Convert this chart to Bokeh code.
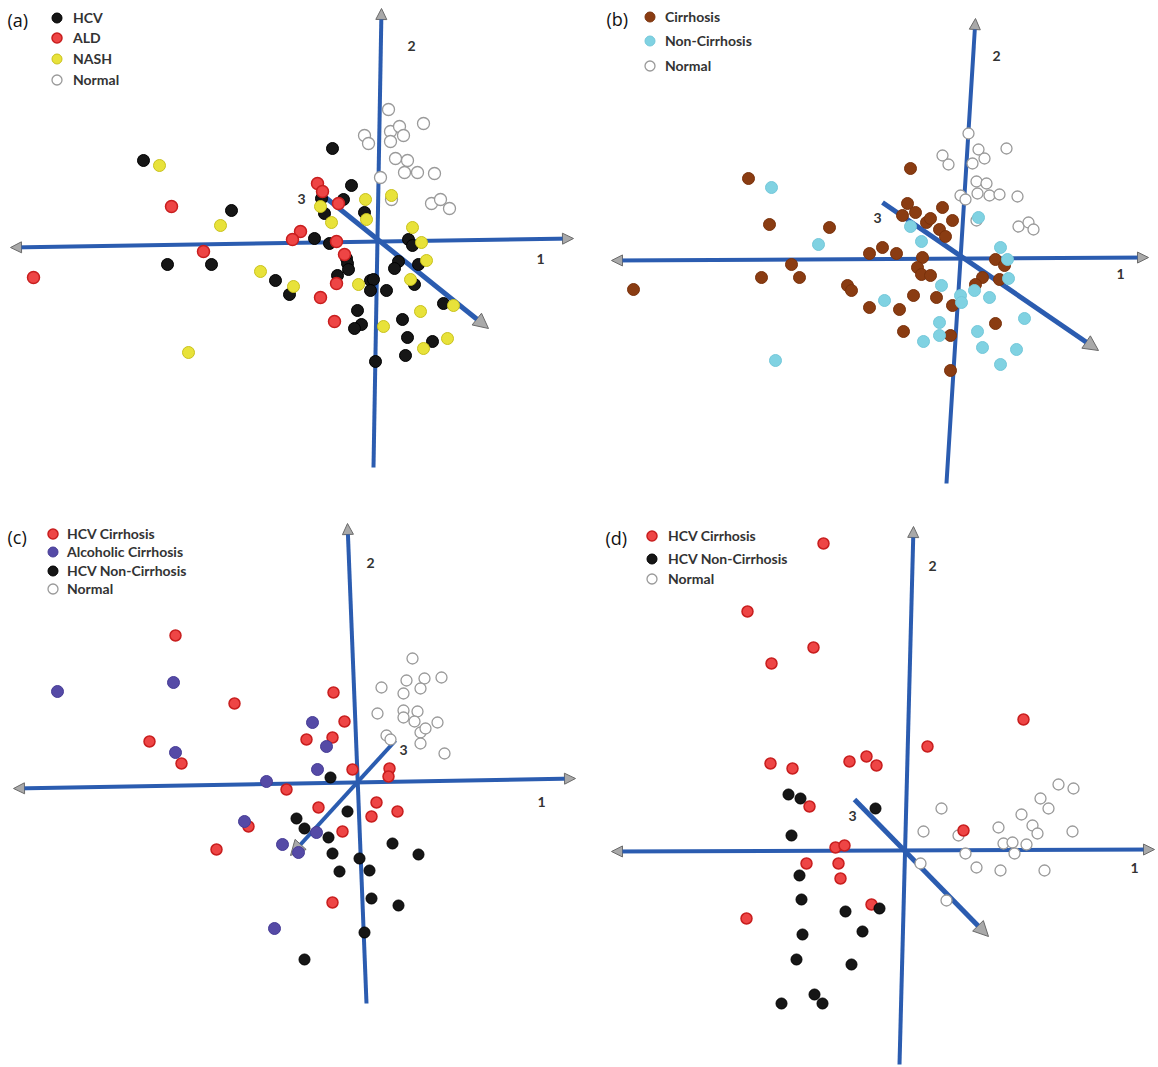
from bokeh.plotting import figure
from bokeh.layouts import gridplot
from bokeh.models import Arrow, NormalHead, Label, Legend, LegendItem, Range1d
from bokeh.core.properties import value
from bokeh.embed import file_html
from bokeh.resources import INLINE

# ---------------- data: projected scores (components 1 / 2) ----------------
# panel (a)
a_hcv_x = [-23.4, -4.5, -2.6, -3.4, -5.6, -14.6, -1.3, -5.3, -6.3, -4.8, 3.1, 3.5, -21.0, -16.6, -3.1, -3.0, -2.9, 2.1, 1.7, 4.1,
           -4.0, -10.2, -0.7, -0.4, -0.7, 0.9, -8.8, 3.7, 6.6, -2.0, 2.5, -1.6, -2.3, 3.0, 5.5, 2.8, -0.2]
a_hcv_y = [8.1, 9.3, 5.6, 4.2, 4.3, 3.1, 2.9, 2.8, 0.3, -0.2, 0.2, -0.4, -2.3, -2.3, -1.7, -2.2, -2.8, -2.0, -2.7, -2.3,
           -3.4, -3.9, -3.9, -3.8, -4.9, -4.9, -5.3, -4.3, -6.2, -6.9, -7.8, -8.3, -8.7, -9.6, -10.0, -11.4, -12.0]
a_ald_x = [-34.4, -20.6, -6.0, -5.5, -7.7, -8.5, -4.1, -17.4, -3.3, -4.1, -5.7, -4.3, -3.9]
a_ald_y = [-3.6, 3.5, 5.8, 5.0, 1.0, 0.2, 0.0, -1.0, -1.3, -4.2, -5.6, -8.0, 3.8]
a_nash_x = [-21.8, -15.7, -5.7, -4.6, -1.2, -1.1, 1.4, 3.5, 4.4, 4.9, -11.7, -8.4, -1.9, 3.3, 4.3, 0.6, 7.0, 4.6, -18.9, 7.6]
a_nash_y = [7.6, 1.6, 3.5, 1.9, 4.2, 2.2, 4.6, 1.4, -0.1, -1.9, -3.0, -4.5, -4.3, -3.8, -7.0, -8.5, -9.7, -10.7, -11.1, -6.4]
a_norm_x = [1.1, 4.6, -1.3, 1.3, 2.2, 2.6, -0.9, 1.3, 1.8, 3.0, 2.7, 4.0, 5.7, 0.3, 5.4, 6.3, 7.2, 1.4]
a_norm_y = [13.2, 11.8, 10.6, 11.0, 11.5, 10.6, 9.8, 10.0, 8.3, 8.1, 6.9, 6.9, 6.8, 6.4, 3.8, 4.2, 3.3, 4.2]

# panel (b)
b_cir_x = [-21.2, -5.0, -19.1, -13.1, -5.3, -4.5, -5.8, -1.8, -3.4, -3.0, -0.8, -2.1, -1.5, -7.8, -9.1, -6.4, -3.8, -16.9, -19.9, -16.1,
           -4.3, -3.9, -3.0, -32.7, -11.3, -10.9, 3.5, 4.4, 2.2, 1.5, 3.9, -4.7, -2.4, -9.1, -6.1, -0.8, 3.5, -5.7, -1.0, -1.0]
b_cir_y = [7.9, 8.9, 3.3, 3.0, 5.4, 4.5, 4.2, 5.0, 3.5, 3.9, 3.7, 2.8, 2.1, 1.0, 0.4, 0.4, 0.0, -0.7, -2.0, -2.0,
           -1.0, -1.7, -1.8, -3.2, -2.8, -3.3, -0.2, -0.8, -2.0, -2.7, -2.2, -3.8, -4.0, -5.0, -5.2, -4.8, -6.6, -7.4, -7.8, -11.3]
b_non_x = [-18.9, 1.8, -5.0, -3.9, -14.2, 4.0, 4.7, 4.8, -1.9, 1.4, 0.0, 0.1, 2.9, -7.6, 6.4, -2.1, 1.7, -2.1, -3.7, 2.2, 5.6, 4.0, -18.5]
b_non_y = [7.0, 4.0, 3.1, 1.6, 1.3, 1.0, -0.2, -2.1, -2.8, -3.3, -3.8, -4.5, -4.0, -4.3, -6.1, -6.5, -7.4, -7.8, -8.4, -9.0, -9.2, -10.7, -10.3]
b_norm_x = [0.8, 4.6, -1.8, 1.8, 2.4, 1.2, -1.2, 1.6, 2.6, 1.7, 2.9, 3.9, 5.7, 0.0, 0.5, 1.6, 5.8, 6.8, 7.3]
b_norm_y = [12.4, 10.9, 10.2, 10.8, 9.9, 9.4, 9.3, 7.6, 7.4, 6.4, 6.2, 6.3, 6.1, 6.2, 5.8, 3.7, 3.1, 3.5, 2.8]

# panel (c)
c_hcvc_x = [-18.1, -12.2, -2.3, -1.2, -5.0, -2.4, -20.7, -17.5, -0.4, 3.3, 3.2, -7.0, -3.8, 2.0, 4.1, 1.5, -1.4, -10.8, -14.0, -2.4]
c_hcvc_y = [14.7, 7.9, 9.0, 6.1, 4.3, 4.5, 4.1, 1.9, 1.3, 1.4, 0.6, -0.7, -2.5, -2.0, -2.9, -3.4, -4.9, -4.4, -6.7, -12.0]
c_alc_x = [-29.9, -18.3, -4.4, -18.1, -3.0, -3.9, -9.0, -11.2, -4.0, -7.4, -5.8, -8.2]
c_alc_y = [9.1, 10.0, 6.0, 3.0, 3.6, 1.3, 0.1, -3.9, -5.0, -6.2, -7.0, -14.6]
c_non_x = [-2.6, -0.9, -6.0, -5.2, -2.8, 3.6, 6.2, -2.4, 0.3, -1.7, 1.3, 1.5, 4.2, 0.8, -5.2]
c_non_y = [0.5, -2.9, -3.6, -4.6, -5.5, -6.1, -7.2, -7.1, -7.6, -8.9, -8.8, -11.6, -12.3, -15.0, -17.7]
c_norm_x = [5.6, 2.5, 5.0, 6.8, 8.5, 4.7, 6.4, 2.1, 4.7, 6.1, 4.7, 5.8, 8.1, 6.4, 6.9, 3.0, 3.4, 6.4, 8.8]
c_norm_y = [12.4, 9.5, 10.2, 10.4, 10.5, 8.9, 9.4, 6.9, 7.2, 7.1, 6.5, 6.1, 6.0, 5.0, 5.4, 4.7, 4.3, 3.9, 2.9]

# panel (d)
d_hcvc_x = [-8.1, -15.7, -9.1, -13.3, 11.9, 2.3, -13.4, -11.2, -5.5, -3.8, -2.8, -9.5, 5.9, -6.9, -6.0, -9.8, -6.6, -6.4, -3.3, -15.8]
d_hcvc_y = [30.7, 23.9, 20.3, 18.7, 13.1, 10.4, 8.7, 8.2, 8.9, 9.4, 8.5, 4.4, 2.0, 0.3, 0.5, -1.3, -1.3, -2.8, -5.4, -6.8]
d_non_x = [-11.6, -10.4, -2.9, -11.3, -10.5, -10.3, -5.9, -2.5, -10.2, -4.2, -10.8, -5.3, -9.0, -8.2, -12.3]
d_non_y = [5.6, 5.2, 4.2, 1.5, -2.5, -4.9, -6.1, -5.8, -8.4, -8.1, -10.9, -11.4, -14.4, -15.3, -15.3]
d_norm_x = [15.4, 16.9, 13.6, 14.4, 3.7, 11.7, 12.8, 13.3, 16.8, 1.9, 9.4, 5.4, 9.9, 10.8, 12.2, 11.0, 6.1, 7.2, 9.6, 14.0, 1.6, 4.2]
d_norm_y = [6.6, 6.2, 5.2, 4.2, 4.2, 3.6, 2.5, 1.7, 1.9, 1.9, 2.3, 1.5, 0.7, 0.8, 0.6, -0.3, -0.3, -1.7, -2.0, -2.0, -1.3, -5.0]

# projected component axes: [x_start, y_start, x_end, y_end] for axes 1, 2, 3
a_axes = [[-36.7, -0.6, 19.6, 0.3], [-0.4, -22.6, 0.4, 23.3], [-5.2, 4.4, 11.1, -8.7]]
b_axes = [[-34.9, -0.3, 18.8, 0.0], [-1.4, -22.6, 1.5, 23.9], [-7.8, 5.5, 13.8, -9.3]]
c_axes = [[-34.3, -0.6, 21.9, 0.4], [1.0, -22.1, -0.9, 25.9], [3.9, 4.2, -6.6, -7.3]]
d_axes = [[-29.3, -0.1, 25.0, 0.1], [-0.5, -21.4, 0.9, 32.4], [-5.0, 5.1, 8.4, -8.6]]
axis_names = ["1", "2", "3"]
a_lab_x, a_lab_y = [16.3, 3.4, -7.6], [-1.7, 19.6, 4.3]
b_lab_x, b_lab_y = [16.0, 3.6, -8.3], [-1.6, 20.2, 4.0]
c_lab_x, c_lab_y = [18.5, 1.4, 4.7], [-1.9, 22.0, 3.3]
d_lab_x, d_lab_y = [23.0, 2.8, -5.2], [-1.7, 28.5, 3.5]

# ---------------- styling ----------------
BLUE = "#2b5cb0"
HEAD_FILL = "#a9a9a9"
HEAD_LINE = "#6a6a6a"
FONT = "Lato"
NORMAL = dict(fill_color="white", line_color="#9a9a9a", line_width=1.3)
BLACK = dict(fill_color="#161616", line_color="#000000", line_width=1)
RED = dict(fill_color="#ee4545", line_color="#c81e1e", line_width=1.5)
YELLOW = dict(fill_color="#e8e23a", line_color="#c9c21c", line_width=1)
BROWN = dict(fill_color="#8a3c12", line_color="#7a320c", line_width=1)
CYAN = dict(fill_color="#80d2e2", line_color="#74c8da", line_width=1)
PURPLE = dict(fill_color="#554aa6", line_color="#463c96", line_width=1)


def make_panel(width, height, xr, yr):
    p = figure(width=width, height=height, x_range=Range1d(*xr), y_range=Range1d(*yr),
               x_axis_location=None, y_axis_location=None, toolbar_location=None,
               output_backend="svg", min_border=0, outline_line_color=None,
               background_fill_color="white", border_fill_color="white")
    p.grid.grid_line_color = None
    return p


def head(size):
    return NormalHead(size=size, fill_color=HEAD_FILL, line_color=HEAD_LINE, line_width=1)


def add_axes(p, axes, lab_x, lab_y, w3=5):
    a1, a2, a3 = axes
    p.add_layout(Arrow(start=head(11), end=head(11), x_start=a1[0], y_start=a1[1], x_end=a1[2], y_end=a1[3],
                       line_color=BLUE, line_width=4, level="underlay"))
    p.add_layout(Arrow(end=head(11), x_start=a2[0], y_start=a2[1], x_end=a2[2], y_end=a2[3],
                       line_color=BLUE, line_width=4, level="underlay"))
    p.add_layout(Arrow(end=head(15), x_start=a3[0], y_start=a3[1], x_end=a3[2], y_end=a3[3],
                       line_color=BLUE, line_width=w3, level="underlay"))
    p.text(x=lab_x, y=lab_y, text=axis_names, text_font=value(FONT), text_font_style="bold",
           text_font_size="14px", text_color="#333333", text_align="center", text_baseline="middle")


def add_letter(p, txt, x, y):
    p.add_layout(Label(x=x, y=y, x_units="screen", y_units="screen", text=txt, text_font="Open Sans",
                       text_font_size="18px", text_color="#111111", text_baseline="middle", text_align="left"))


def add_legend(p, items, x, ys, standoff):
    # one single-entry legend per item so that the row spacing can match the figure
    for (lab, r), y in zip(items, ys):
        lg = Legend(items=[LegendItem(label=lab, renderers=[r])], location=(x, y),
                    glyph_width=25, glyph_height=25, label_height=20, spacing=0, label_standoff=standoff,
                    padding=0, margin=0, background_fill_alpha=0, border_line_alpha=0,
                    label_text_font=FONT, label_text_font_style="bold", label_text_font_size="14px",
                    label_text_color="#333333")
        p.add_layout(lg)


W = 579
H_TOP, H_BOT = 510, 556

# ---- (a)
pa = make_panel(W, H_TOP, (-37.7, 20.2), (-26.9, 24.1))
add_axes(pa, a_axes, a_lab_x, a_lab_y)
ra_norm = pa.scatter(a_norm_x, a_norm_y, size=12, **NORMAL)
ra_hcv = pa.scatter(a_hcv_x, a_hcv_y, size=12, **BLACK)
ra_nash = pa.scatter(a_nash_x, a_nash_y, size=12, **YELLOW)
ra_ald = pa.scatter(a_ald_x, a_ald_y, size=12, **RED)
add_legend(pa, [("HCV", ra_hcv), ("ALD", ra_ald), ("NASH", ra_nash), ("Normal", ra_norm)],
           44, [480, 460, 439, 418], 4)
add_letter(pa, "(a)", 7, 491)

# ---- (b)
pb = make_panel(W, H_TOP, (-38.1, 19.8), (-25.3, 25.7))
add_axes(pb, b_axes, b_lab_x, b_lab_y)
rb_norm = pb.scatter(b_norm_x, b_norm_y, size=11, **NORMAL)
rb_cir = pb.scatter(b_cir_x, b_cir_y, size=12, **BROWN)
rb_non = pb.scatter(b_non_x, b_non_y, size=12, **CYAN)
add_legend(pb, [("Cirrhosis", rb_cir), ("Non-Cirrhosis", rb_non), ("Normal", rb_norm)],
           58, [481, 457, 432], 3)
add_letter(pb, "(b)", 27, 492)

# ---- (c)
pc = make_panel(W, H_BOT, (-35.6, 22.3), (-28.4, 27.2))
add_axes(pc, c_axes, c_lab_x, c_lab_y, w3=4)
rc_norm = pc.scatter(c_norm_x, c_norm_y, size=11, **NORMAL)
rc_non = pc.scatter(c_non_x, c_non_y, size=11, **BLACK)
rc_hcvc = pc.scatter(c_hcvc_x, c_hcvc_y, size=11, **RED)
rc_alc = pc.scatter(c_alc_x, c_alc_y, size=12, **PURPLE)
add_legend(pc, [("HCV Cirrhosis", rc_hcvc), ("Alcoholic Cirrhosis", rc_alc), ("HCV Non-Cirrhosis", rc_non),
                ("Normal", rc_norm)], 40, [520, 502, 483, 465], 2)
add_letter(pc, "(c)", 7, 530)

# ---- (d)
pd_ = make_panel(W, H_BOT, (-32.5, 25.4), (-21.6, 34.0))
add_axes(pd_, d_axes, d_lab_x, d_lab_y)
rd_norm = pd_.scatter(d_norm_x, d_norm_y, size=11, **NORMAL)
rd_hcvc = pd_.scatter(d_hcvc_x, d_hcvc_y, size=11, **RED)
rd_non = pd_.scatter(d_non_x, d_non_y, size=11, **BLACK)
add_legend(pd_, [("HCV Cirrhosis", rd_hcvc), ("HCV Non-Cirrhosis", rd_non), ("Normal", rd_norm)],
           60, [518, 495, 475], 4)
add_letter(pd_, "(d)", 26, 529)

grid = gridplot([[pa, pb], [pc, pd_]], toolbar_location=None)

with open("out.html", "w") as f:
    f.write(file_html(grid, INLINE))
